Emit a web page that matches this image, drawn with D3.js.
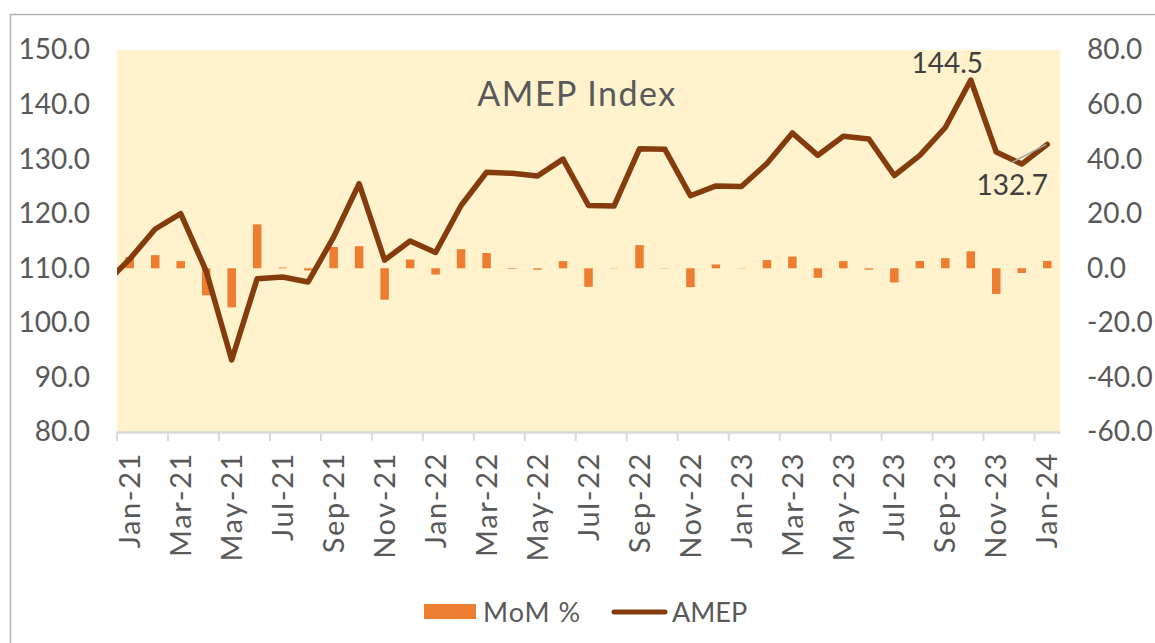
<!DOCTYPE html>
<html>
<head>
<meta charset="utf-8">
<script src="https://cdn.jsdelivr.net/npm/d3@7"></script>
<style>
  html, body { margin: 0; padding: 0; background: #ffffff; }
  svg { display: block; font-family: Lato, "Noto Sans", sans-serif; }
</style>
</head>
<body>
<svg id="chart" width="1155" height="643"></svg>
<script>
// ---- data ----
const months = [
  'Jan-21','Feb-21','Mar-21','Apr-21','May-21','Jun-21','Jul-21','Aug-21','Sep-21','Oct-21','Nov-21','Dec-21',
  'Jan-22','Feb-22','Mar-22','Apr-22','May-22','Jun-22','Jul-22','Aug-22','Sep-22','Oct-22','Nov-22','Dec-22',
  'Jan-23','Feb-23','Mar-23','Apr-23','May-23','Jun-23','Jul-23','Aug-23','Sep-23','Oct-23','Nov-23','Dec-23',
  'Jan-24'
];
// AMEP index (left axis)
const amep = [
  111.7, 117.2, 120.0, 109.5, 93.2, 108.1, 108.4, 107.5, 115.7, 125.5, 111.5, 115.0,
  112.9, 121.5, 127.6, 127.4, 126.9, 130.0, 121.5, 121.4, 131.9, 131.8, 123.3, 125.1,
  125.0, 129.2, 134.8, 130.7, 134.2, 133.7, 127.0, 130.7, 135.8, 144.5, 131.3, 129.1,
  132.7
];
// value of the month before the first category (line enters from the left edge, clipped)
const amepPrev = 107.0;
// MoM % (right axis)
const mom = [
  4.1, 4.8, 2.6, -9.9, -14.3, 16.1, 0.3, -0.8, 7.8, 8.1, -11.5, 3.2,
  -2.3, 7.0, 5.6, -0.2, -0.5, 2.6, -6.8, -0.1, 8.5, -0.1, -6.9, 1.4,
  -0.1, 3.0, 4.3, -3.5, 2.6, -0.5, -5.2, 2.7, 3.7, 6.2, -9.4, -1.7,
  2.7
];
const leftTicks = [80, 90, 100, 110, 120, 130, 140, 150];
const rightTicks = [-60, -40, -20, 0, 20, 40, 60, 80];
const labelledPoints = [
  { month: 'Oct-23', value: 144.5, dx: -23.5, dy: -7, leader: false },
  { month: 'Jan-24', value: 132.7, dx: -35, dy: 51, leader: true }
];

// ---- layout ----
const svg = d3.select('#chart');
const P = { left: 117, right: 1060, top: 50, bottom: 432 };
const textCol = '#595959';
const fmt = d => d.toFixed(1);

// outer frame
svg.append('rect').attr('x', 10.5).attr('y', 14.5).attr('width', 1160).attr('height', 660)
  .attr('fill', 'none').attr('stroke', '#b4b4b4').attr('stroke-width', 1.5);

const x = d3.scaleBand().domain(months).range([P.left, P.right]).paddingInner(0).paddingOuter(0);
const bw = x.bandwidth();
const cx = m => x(m) + bw / 2;
const yL = d3.scaleLinear().domain([80, 150]).range([P.bottom, P.top]);
const yR = d3.scaleLinear().domain([-60, 80]).range([P.bottom, P.top]);

// plot background
svg.append('rect').attr('x', P.left).attr('y', P.top)
  .attr('width', P.right - P.left).attr('height', P.bottom - P.top)
  .attr('fill', '#FFF2CC');

svg.append('clipPath').attr('id', 'plotclip').append('rect')
  .attr('x', P.left).attr('y', P.top - 10).attr('width', P.right - P.left).attr('height', P.bottom - P.top + 10);

// title
svg.append('text').attr('x', 577).attr('y', 106).attr('text-anchor', 'middle')
  .attr('font-size', 34).attr('letter-spacing', 1.5).attr('fill', textCol).text('AMEP Index');

// bars (right axis)
const barW = bw / 3;
svg.append('g').selectAll('rect').data(months).join('rect')
  .attr('x', (m) => cx(m) - barW / 2)
  .attr('width', barW)
  .attr('y', (m, i) => yR(Math.max(0, mom[i])))
  .attr('height', (m, i) => Math.abs(yR(mom[i]) - yR(0)))
  .attr('fill', '#ED7D31');

// line (left axis)
const pts = [[x(months[0]) - bw / 2, amepPrev]].concat(months.map((m, i) => [cx(m), amep[i]]));
svg.append('path')
  .attr('clip-path', 'url(#plotclip)')
  .attr('d', d3.line().x(d => d[0]).y(d => yL(d[1]))(pts))
  .attr('fill', 'none').attr('stroke', '#843C0C').attr('stroke-width', 5.5)
  .attr('stroke-linejoin', 'round').attr('stroke-linecap', 'round');

// data labels
labelledPoints.forEach(p => {
  const px = cx(p.month), py = yL(p.value);
  const lx = px + p.dx, ly = py + p.dy;
  if (p.leader) {
    svg.append('line').attr('x1', lx).attr('y1', ly - 33).attr('x2', px - 1).attr('y2', py)
      .attr('stroke', '#a6a6a6').attr('stroke-width', 1.5);
  }
  svg.append('text').attr('x', lx).attr('y', ly).attr('text-anchor', 'middle')
    .attr('font-size', 28).attr('fill', '#404040').text(fmt(p.value));
});

// left axis
const gl = svg.append('g').attr('transform', `translate(${P.left},0)`)
  .call(d3.axisLeft(yL).tickValues(leftTicks).tickFormat(fmt).tickSize(0).tickPadding(27));
gl.select('.domain').remove();
gl.selectAll('text').attr('font-size', 28).attr('fill', textCol).attr('font-family', 'Lato, sans-serif');

// right axis
const gr = svg.append('g').attr('transform', `translate(${P.right},0)`)
  .call(d3.axisRight(yR).tickValues(rightTicks).tickFormat(fmt).tickSize(0).tickPadding(27));
gr.select('.domain').remove();
gr.selectAll('text').attr('font-size', 28).attr('fill', textCol).attr('font-family', 'Lato, sans-serif');

// bottom axis
const labelled = months.filter((m, i) => i % 2 === 0);
const gb = svg.append('g').attr('transform', `translate(0,${P.bottom})`)
  .call(d3.axisBottom(x).tickValues(labelled).tickSize(9).tickSizeOuter(0));
gb.select('.domain').attr('stroke', '#d9d9d9').attr('stroke-width', 2.5);
gb.selectAll('.tick line').attr('x1', -bw / 2).attr('x2', -bw / 2).attr('stroke', '#d9d9d9').attr('stroke-width', 2);
gb.selectAll('.tick text')
  .attr('font-size', 29).attr('letter-spacing', 1.6).attr('fill', textCol).attr('font-family', 'Lato, sans-serif')
  .attr('text-anchor', 'end').attr('dy', '0.35em').attr('x', -20).attr('y', 0)
  .attr('transform', 'rotate(-90)');

// legend
const lg = svg.append('g');
lg.append('rect').attr('x', 424).attr('y', 604).attr('width', 52).attr('height', 15).attr('fill', '#ED7D31');
lg.append('text').attr('x', 483).attr('y', 622).attr('font-size', 27).attr('letter-spacing', 1).attr('fill', textCol).text('MoM %');
lg.append('line').attr('x1', 614).attr('x2', 665).attr('y1', 612).attr('y2', 612)
  .attr('stroke', '#843C0C').attr('stroke-width', 5).attr('stroke-linecap', 'round');
lg.append('text').attr('x', 672).attr('y', 622).attr('font-size', 27).attr('fill', textCol).text('AMEP');
</script>
</body>
</html>
